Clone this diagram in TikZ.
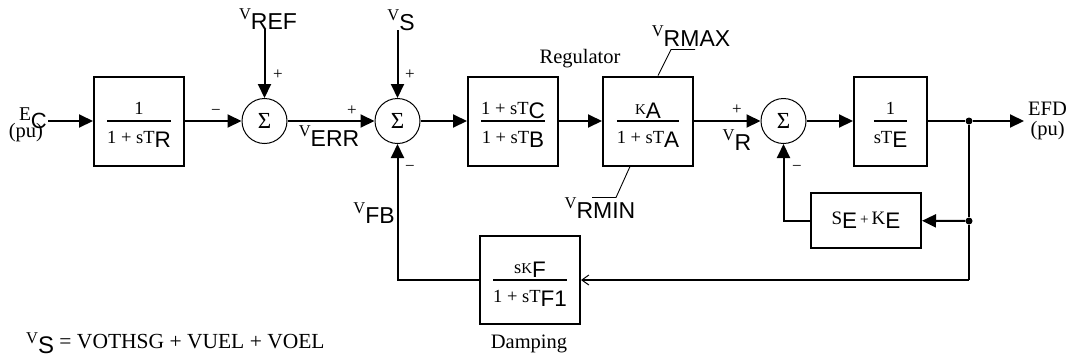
\documentclass[tikz,border=0pt]{standalone}
\usepackage{fontspec}
\setmainfont{Liberation Serif}
\setsansfont{Liberation Sans}
\usetikzlibrary{arrows.meta,positioning,calc}
\setlength{\arrayrulewidth}{1.6pt}
\newcommand{\mainlet}[1]{{\fontsize{15}{15}\selectfont#1}}
\newcommand{\sublet}[1]{\raisebox{-4pt}{\sffamily\fontsize{22.5}{22.5}\selectfont#1}}
\newcommand{\vlab}[2]{\raisebox{10pt}{\fontsize{16.5}{16.5}\selectfont#1}{\sffamily\fontsize{23}{23}\selectfont#2}}
\newcommand{\frc}[2]{\begin{tabular}{@{}c@{}}\rule[-6pt]{0pt}{28pt}#1\\\hline\rule{0pt}{22pt}#2\rule[-6pt]{0pt}{6pt}\end{tabular}}

\begin{document}
\begin{tikzpicture}[x=1pt,y=-1pt,
        blk/.style={draw, line width=2pt, minimum width=90pt, minimum height=89pt, inner sep=0pt, font=\fontsize{18.5}{18.5}\selectfont},
        sumnode/.style={circle, draw, line width=1pt, minimum size=45pt, inner sep=0pt, font=\fontsize{23}{23}\selectfont},
        sig/.style={line width=2pt, -{Triangle[length=14pt,width=13pt]}},
        wire/.style={line width=2pt},
        fbline/.style={line width=2pt, -{Straight Barb[length=7pt,width=10pt,line width=1pt]}},
        limline/.style={line width=0.9pt},
        sgn/.style={inner sep=0pt, font=\fontsize{17}{17}\selectfont},
        lbl/.style={inner sep=0pt, font=\fontsize{20.5}{20.5}\selectfont},
        tapdot/.style={circle, fill, inner sep=0pt, minimum size=7pt}
    ]
        \useasboundingbox (0,0) rectangle (1076,360);

        % forward path
        \node[blk] (trans) at (139,121) {\frc{1}{1 + sT\sublet{R}}};
        \node[sumnode] (sum1) at (264.5,121) {Σ};
        \node[sumnode] (sum2) at (397.5,121) {Σ};
        \node[blk] (lead) at (513,121) {\frc{1 + sT\sublet{C}}{1 + sT\sublet{B}}};
        \node[blk] (amp) at (648,121) {\frc{\mainlet{K}\sublet{A}}{1 + sT\sublet{A}}};
        \node[sumnode] (sum3) at (783.5,121) {Σ};
        \node[blk, minimum width=73pt] (exc) at (890.5,121) {\frc{1}{sT\sublet{E}}};
        \node[blk, minimum width=110pt, minimum height=55pt] (satbox) at (866,220.5) {{\fontsize{19}{19}\selectfont S}\sublet{E}\,\mainlet{+}\,{\fontsize{19}{19}\selectfont K}\sublet{E}};
        \node[blk, minimum width=100pt, minimum height=88pt] (damp) at (530,280) {\frc{s\mainlet{K}\sublet{F}}{1 + sT\sublet{F1}}};

        % inputs and outputs
        \node[inner sep=1pt, anchor=base east] (ec) at (48,128) {\raisebox{8pt}{\fontsize{19.5}{19.5}\selectfont E}{\sffamily\fontsize{22}{22}\selectfont C}};
        \node[lbl, anchor=base] (ecpu) at (26,137) {(pu)};
        \node[lbl, anchor=base] (vref) at (268,29) {\vlab{V}{REF}};
        \node[lbl, anchor=base] (vs) at (401,30) {\vlab{V}{S}};
        \node[lbl, anchor=west, align=center] (efd) at (1028,121) {EFD\\[-1pt](pu)};
        \node[tapdot] (tap) at (969,121) {};
        \node[tapdot] (tapse) at (969,221) {};
        \coordinate (fbcorner) at (969,280);

        % connectors
        \draw[sig] (ec.east |- trans.west) -- (trans.west);
        \draw[sig] (trans) -- (sum1);
        \draw[sig] (vref.south -| sum1.north) -- (sum1.north);
        \draw[sig] (sum1) -- (sum2);
        \draw[sig] (vs.south -| sum2.north) -- (sum2.north);
        \draw[sig] (sum2) -- (lead);
        \draw[sig] (lead) -- (amp);
        \draw[sig] (amp) -- (sum3);
        \draw[sig] (sum3) -- (exc);
        \draw[wire] (exc) -- (tap);
        \draw[sig] (tap) -- ([xshift=-4pt]efd.west);
        \draw[wire] (tap) -- (tapse) -- (fbcorner);
        \draw[sig] (tapse) -- (satbox);
        \draw[sig] (satbox.west) -| (sum3.south);
        \draw[fbline] (fbcorner) -- (damp.east);
        \draw[sig] (damp.west) -| (sum2.south);

        % limits
        \draw[limline] ([xshift=10pt]amp.north) -- ++(13,-26) -- ++(24,0);
        \draw[limline] ([xshift=-18pt]amp.south) -- ++(-14,31) -- ++(-24,0);
        \node[lbl, anchor=base] (vrmax) at (691,46.5) {\vlab{V}{RMAX}};
        \node[lbl, anchor=base] (vrmin) at (600,218) {\vlab{V}{RMIN}};

        % signal names and signs
        \node[lbl, anchor=base] (verr) at (329,146) {\vlab{V}{ERR}};
        \node[lbl, anchor=base] (vr) at (737,150) {\vlab{V}{R}};
        \node[lbl, anchor=base east] (vfb) at (395,223) {\vlab{V}{FB}};
        \node[sgn] at (216,112) {−};
        \node[sgn] at (278,75) {+};
        \node[sgn] at (352,111) {+};
        \node[sgn] at (410,75) {+};
        \node[sgn] at (410,168) {−};
        \node[sgn] at (737,110) {+};
        \node[sgn] at (797,168) {−};

        \node[lbl, anchor=base] (reglbl) at (580,63) {Regulator};
        \node[lbl, anchor=base] (damplbl) at (529,348) {Damping};
        \node[anchor=base west, inner sep=0pt, font=\fontsize{21.5}{21.5}\selectfont] (vseq) at (26,348.5) {\raisebox{5pt}{\fontsize{16.5}{16.5}\selectfont V}\raisebox{-5pt}{\sffamily\fontsize{24}{24}\selectfont S} = VOTHSG + VUEL + VOEL};
    \end{tikzpicture}
\end{document}
